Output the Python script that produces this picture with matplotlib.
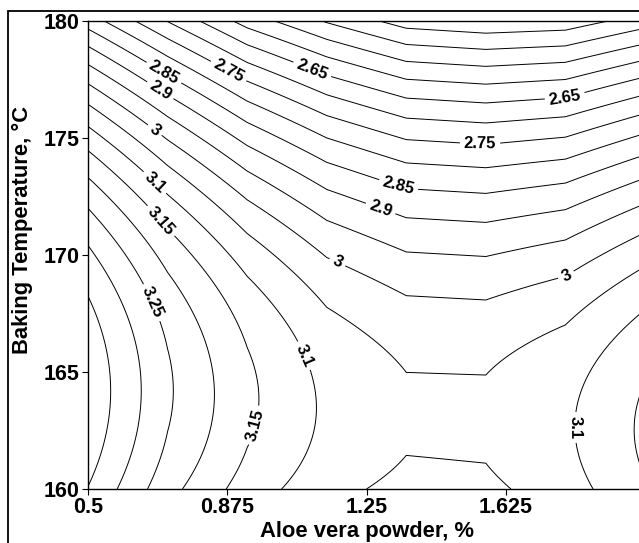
import numpy as np
import matplotlib.pyplot as plt
from matplotlib.patches import Rectangle

plt.rcParams['font.family'] = ['Liberation Sans', 'DejaVu Sans']
plt.rcParams['font.weight'] = 'bold'

# aloe vera powder (%) at the grid columns of the surface
aloe = [0.5, 0.7143, 0.9286, 1.1429, 1.3571, 1.5714, 1.7857, 2.0]
# response for each column at 160, 170 and 180 °C
temps = [160, 170, 180]
resp_160 = [3.348, 3.217, 3.126, 3.066, 3.034, 3.038, 3.076, 3.145]
resp_170 = [3.311, 3.182, 3.077, 2.997, 2.954, 2.948, 2.972, 3.034]
resp_180 = [2.826, 2.698, 2.579, 2.495, 2.427, 2.411, 2.420, 2.476]

levels = np.round(np.arange(2.45, 3.375, 0.05), 2)

xticks = [0.5, 0.875, 1.25, 1.625, 2.0]
xticklabels = ['0.5', '0.875', '1.25', '1.625', '2']
yticks = [160, 165, 170, 175, 180]

# label spots (aloe %, temperature)
label_spots = [(0.695, 177.55), (0.686, 176.83), (0.673, 175.19), (0.673, 172.98),
               (0.682, 171.26), (0.870, 177.61), (1.098, 177.69), (1.335, 172.9),
               (1.286, 171.9), (1.556, 174.76), (1.784, 176.83), (1.169, 169.6),
               (1.784, 169.22), (0.664, 167.91), (1.071, 165.62), (0.937, 162.77),
               (1.806, 162.63)]

# quadratic in temperature for each column, linear between columns
temp_fine = np.linspace(160, 180, 401)
cols = []
for a, b, c in zip(resp_160, resp_170, resp_180):
    p = np.polyfit(temps, [a, b, c], 2)
    cols.append(np.polyval(p, temp_fine))
Z = np.array(cols).T

fig = plt.figure(figsize=(6.39, 5.43), dpi=100)
ax = fig.add_axes([88/639, 54/543, 557/639, 468/543])

cs = ax.contour(aloe, temp_fine, Z, levels=levels, colors='k', linewidths=0.7)
ax.clabel(cs, fmt=lambda v: f'{round(v, 2):g}', manual=label_spots,
          fontsize=12, inline=True, inline_spacing=4)
for t in cs.labelTexts:
    t.set_fontweight('bold')

ax.set_xlim(0.5, 2.0)
ax.set_ylim(160, 180)
ax.set_xticks(xticks)
ax.set_xticklabels(xticklabels)
ax.set_yticks(yticks)
ax.tick_params(direction='out', length=4, width=0.8, labelsize=15.5, pad=2)
for s in ax.spines.values():
    s.set_linewidth(1.0)

ax.set_xlabel('Aloe vera powder, %', fontsize=15.8, fontweight='bold', labelpad=2)
ax.set_ylabel('Baking Temperature, °C', fontsize=15.8, fontweight='bold')
ax.yaxis.set_label_coords(-0.099, 0.553)

fig.patches.append(Rectangle((8/639, -0.1), 1.2, 1 - 11/543 + 0.1,
                             transform=fig.transFigure, fill=False, lw=1.3, ec='k'))

fig.savefig('out.png', dpi=100)
